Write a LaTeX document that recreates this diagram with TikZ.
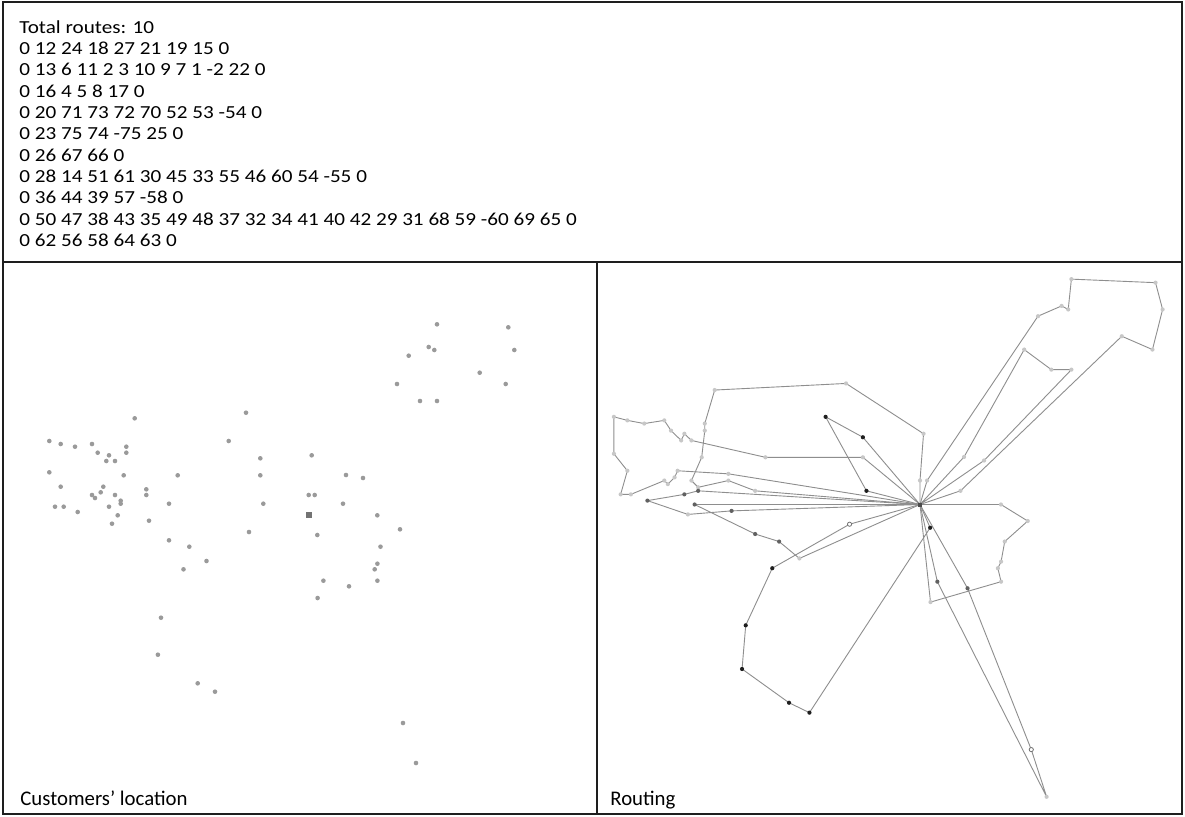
\documentclass[tikz,border=0pt]{standalone}
\usepackage{fontspec}
\setmainfont{Carlito}
\newfontfamily\routefont[FakeStretch=1.15]{Carlito}
\usetikzlibrary{positioning}
\definecolor{linegray}{HTML}{8E8E8E}
\definecolor{dotgray}{HTML}{9A9A9A}
\definecolor{framegray}{HTML}{1E1E1E}
\tikzset{
  frameline/.style={draw=framegray, line width=1.3pt},
  routetext/.style={font=\routefont\fontsize{9.2}{11}\selectfont,
    anchor=base west, inner sep=0pt},
  panellabel/.style={font=\fontsize{10.4}{12.5}\selectfont,
    anchor=base west, inner sep=0pt},
  custdot/.style={fill=dotgray},
  depotbox/.style={fill=#1},
  depotbox/.default=black!55,
  routeline/.style={draw=linegray, line width=0.45pt, line join=round},
  tone k/.style={fill=black!88},
  tone d/.style={fill=black!62},
  tone l/.style={fill=black!22},
  tone o/.style={fill=white, draw=black!55, line width=0.4pt},
}
% customers: name/x/y/tone (x,y in pixels of the left panel)
\newcommand\custpoints{a1/317.3/535/k, a2/215/691.7/k, a3/197.7/683.3/k,
  a4/157.9/654.7/k, a5/161/617.7/k, a6/183.5/569.3/k, a7/249/532/o,
  b1/308.7/495/l, b2/311.7/455.3/l, b3/246/412.7/l, b4/134.7/418.3/l,
  b5/126.3/446.7/l, b6/126.3/452.7/l, b7/123.7/475.3/l, b8/115/495/l,
  b9/120.7/500.7/l, b10/146.3/495/l, b11/169/503.7/l,
  c1/260.3/458.3/k, c2/228.7/441/k, c3/263.3/503.7/k,
  d1/146.3/489.3/l, d2/103.3/486.7/l, d3/100.7/492.3/l, d4/95/498/l,
  d5/92/495/l, d6/63.7/506.7/l, d7/55/506.7/l, d8/60.7/486.7/l,
  d9/49.3/472.3/l, d10/49.3/441/l, d11/60.7/444/l, d12/75/446.7/l,
  d13/92/444/l, d14/97.7/452.7/l, d15/106.3/461/l, d16/109/455.3/l,
  d17/115/461/l, d18/177.7/475.3/l, d19/260.3/475.3/l,
  e1/314.7/495/l, e2/408.7/355.7/l, e3/428.7/347/l, e4/434.3/350/l,
  e5/437/324.3/l, e6/508.3/327.3/l, e7/514.3/350/l, e8/505.7/384/l,
  e9/479.7/372.7/l, e10/343/503.7/l,
  f1/346/475/l, f2/397/384/l, f3/420/401/l, f4/437/401/l, f5/363/478/l,
  g1/377.3/515.3/l, g2/400/529.3/l, g3/380.5/546.7/l, g4/377.4/563.7/l,
  g5/374.7/569.3/l, g6/377.4/580.7/l, g7/317.6/598/l,
  h1/323.4/580.7/d, h2/416/763/l, h3/403/723/o, h4/349/586.3/d,
  i1/117.7/515.3/d, i2/169/540.3/d, i3/189.3/546.7/d, i4/206.5/561/l,
  j1/149/520.7/d, j2/112/523.7/l, j3/77.7/512/d, j4/109/506.7/d,
  j5/120.7/503.7/d}
% routes: letter/number of stops
\newcommand\routelist{a/7, b/11, c/3, d/19, e/10, f/5, g/7, h/4, i/4, j/5}
\newcommand\routelines{Total routes: 10, 0 12 24 18 27 21 19 15 0,
  0 13 6 11 2 3 10 9 7 1 -2 22 0, 0 16 4 5 8 17 0,
  0 20 71 73 72 70 52 53 -54 0, 0 23 75 74 -75 25 0, 0 26 67 66 0,
  0 28 14 51 61 30 45 33 55 46 60 54 -55 0, 0 36 44 39 57 -58 0,
  0 50 47 38 43 35 49 48 37 32 34 41 40 42 29 31 68 59 -60 69 65 0,
  0 62 56 58 64 63 0}
\begin{document}
\begin{tikzpicture}[x=0.5pt, y=-0.5pt]
    \useasboundingbox (0,0) rectangle (1185,816);
    \fill[white] (0,0) rectangle (1185,816);

    % TOP PANEL: route listing
    \foreach \t [count=\k from 0] in \routelines {
        \node[routetext] (line\k) at (19,{33.3+21.33*\k}) {\t};
    }

    % LEFT PANEL: customers
    \foreach \n/\x/\y/\s in \custpoints {
        \coordinate (L-\n) at (\x,\y);
        \fill[custdot] (L-\n) circle[radius=1.15pt];
    }
    \coordinate (L-depot) at (308.7,515.3);
    \fill[depotbox] ([shift={(-1.5pt,-1.5pt)}]L-depot) rectangle ([shift={(1.5pt,1.5pt)}]L-depot);

    % RIGHT PANEL: same customers, scaled about the depot
    \begin{scope}[shift={(920,504.5)}, scale=1.18, shift={(-308.7,-515.3)}]
        \coordinate (R-depot) at (308.7,515.3);
        \foreach \n/\x/\y/\s in \custpoints {
            \coordinate (R-\n) at (\x,\y);
        }
    \end{scope}
    \foreach \r/\len in \routelist {
        \draw[routeline] (R-depot) \foreach \i in {1,...,\len} { -- (R-\r\i) } -- (R-depot);
    }
    \foreach \n/\x/\y/\s in \custpoints {
        \path[tone \s] (R-\n) circle[radius=1.05pt];
    }
    \fill[depotbox=black!70] ([shift={(-1pt,-1pt)}]R-depot) rectangle ([shift={(1pt,1pt)}]R-depot);

    % labels
    \node[panellabel] (custlabel) at (20,805) {Customers’ location};
    \node[panellabel] (routelabel) at (610,805) {Routing};

    % frame
    \draw[frameline] (3,2) rectangle (1182,814);
    \draw[frameline] (3,262) -- (1182,262);
    \draw[frameline] (597,262) -- (597,814);
\end{tikzpicture}
\end{document}
